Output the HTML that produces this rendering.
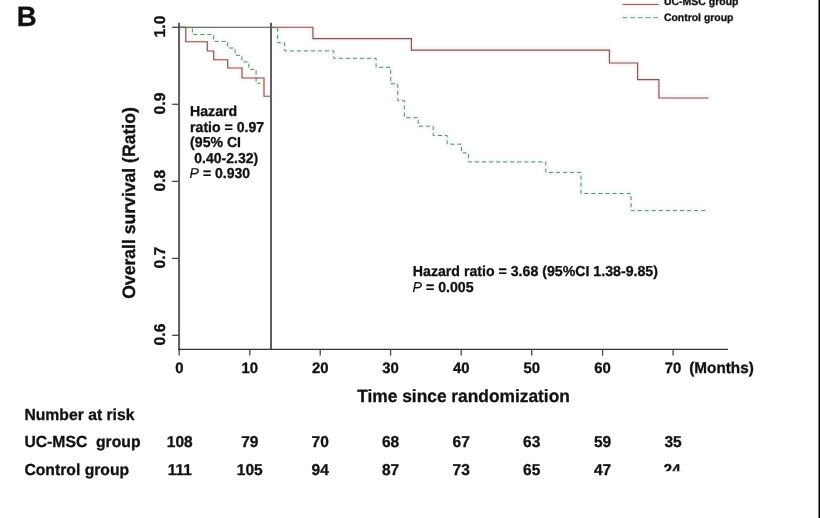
<!DOCTYPE html>
<html>
<head>
<meta charset="utf-8">
<title>Overall survival</title>
<style>
html,body{margin:0;padding:0;background:#fff;}
body{width:820px;height:518px;overflow:hidden;}
svg{display:block;}
text{font-family:"Liberation Sans",sans-serif;font-weight:bold;fill:#111;stroke:#111;stroke-width:0.3px;text-rendering:geometricPrecision;}
.it{font-style:italic;font-weight:normal;stroke-width:0.15px;}
</style>
</head>
<body>
<svg width="820" height="518" viewBox="0 0 820 518">
<rect x="0" y="0" width="820" height="518" fill="#fff"/>
<defs><filter id="soft" x="-5%" y="-5%" width="110%" height="110%"><feGaussianBlur stdDeviation="1.6"/></filter></defs>

<!-- panel letter -->
<text transform="translate(16.8 25.6) scale(1 1.02)" font-size="27.6">B</text>
<!-- legend -->
<line x1="622.5" y1="4.5" x2="658.8" y2="4.5" stroke="#725c60" stroke-width="1.15"/>
<text transform="translate(664 4.6) scale(1 1.02)" font-size="10.47">UC-MSC group</text>
<line x1="622.5" y1="17.6" x2="658.8" y2="17.6" stroke="#7b8480" stroke-width="0.95" stroke-dasharray="4.7 3"/>
<text transform="translate(664 20.5) scale(1 1.02)" font-size="10.42">Control group</text>
<!-- curves: soft colour halo then crisp lines -->
<g fill="none" stroke-linejoin="round" stroke-linecap="round" filter="url(#soft)">
<path stroke="#ff7b7b" stroke-opacity="0.16" stroke-width="4" d="M179.3 27.4 H185.8 V41.7 H207.3 V51 H213.7 V59.7 H227.7 V68 H242 V78 H264 V96.2 H271"/>
<path stroke="#ff7b7b" stroke-opacity="0.16" stroke-width="4" d="M271 27.2 H312.9 V38.6 H411.4 V50.1 H609.4 V63 H637.6 V79.6 H658.9 V98 H708.4"/>
<path stroke="#ff7b7b" stroke-opacity="0.16" stroke-width="4" d="M622.5 4.5 H658.8"/>
<path stroke="#59d98a" stroke-opacity="0.13" stroke-width="4" d="M179.3 27.4 H192.4 V34.5 H213.6 V41.4 H227.7 V48 H235 V55.3 H241.9 V61.9 H248.8 V69.4 H256.1 V83.3 H260.3"/>
<path stroke="#59d98a" stroke-opacity="0.13" stroke-width="4" d="M271 27.4 H277.7 V42.8 H284.7 V50.9 H333.8 V58.3 H376.1 V67.3 H390.7 V83.8 H397.8 V100.7 H404.4 V117.7 H418.2 V126.2 H433.2 V135.5 H447.2 V144.2 H461.5 V152.9 H468.5 V161.9 H545.8 V172.4 H581 V193.5 H631 V210.6 H706.5"/>
<path stroke="#59d98a" stroke-opacity="0.13" stroke-width="4" d="M622.5 17.6 H658.8"/>
</g>
<g fill="none" stroke-linejoin="miter">
<line x1="179" y1="27.4" x2="271" y2="27.4" stroke="#6e6e6e" stroke-width="1.3"/>
<path stroke="#6b7470" stroke-width="0.95" stroke-dasharray="4 3.05" d="M179.3 27.4 H192.4 V34.5 H213.6 V41.4 H227.7 V48 H235 V55.3 H241.9 V61.9 H248.8 V69.4 H256.1 V83.3 H260.3"/>
<path stroke="#6b7470" stroke-width="0.95" stroke-dasharray="4 3.05" d="M271 27.4 H277.7 V42.8 H284.7 V50.9 H333.8 V58.3 H376.1 V67.3 H390.7 V83.8 H397.8 V100.7 H404.4 V117.7 H418.2 V126.2 H433.2 V135.5 H447.2 V144.2 H461.5 V152.9 H468.5 V161.9 H545.8 V172.4 H581 V193.5 H631 V210.6 H706.5"/>
<path stroke="#725c60" stroke-width="1.15" d="M179.3 27.4 H185.8 V41.7 H207.3 V51 H213.7 V59.7 H227.7 V68 H242 V78 H264 V96.2 H271"/>
<path stroke="#725c60" stroke-width="1.15" d="M271 27.2 H312.9 V38.6 H411.4 V50.1 H609.4 V63 H637.6 V79.6 H658.9 V98 H708.4"/>
</g>
<!-- axes -->
<g fill="none">
<line x1="179.05" y1="22.8" x2="179.05" y2="350" stroke-width="2" stroke="#5e5e5e"/>
<line x1="271" y1="22.8" x2="271" y2="349.4" stroke-width="2" stroke="#5e5e5e"/>
<line x1="178" y1="349.35" x2="728" y2="349.35" stroke-width="1.3" stroke="#333"/>
<g stroke-width="1.3" stroke="#444">
<line x1="172.2" y1="27.3" x2="179" y2="27.3"/>
<line x1="172.2" y1="104.3" x2="179" y2="104.3"/>
<line x1="172.2" y1="181.4" x2="179" y2="181.4"/>
<line x1="172.2" y1="258.4" x2="179" y2="258.4"/>
<line x1="172.2" y1="335.3" x2="179" y2="335.3"/>
<line x1="179.2" y1="349" x2="179.2" y2="355.6"/>
<line x1="249.8" y1="349" x2="249.8" y2="355.6"/>
<line x1="320.2" y1="349" x2="320.2" y2="355.6"/>
<line x1="390.6" y1="349" x2="390.6" y2="355.6"/>
<line x1="461.2" y1="349" x2="461.2" y2="355.6"/>
<line x1="531.7" y1="349" x2="531.7" y2="355.6"/>
<line x1="602.6" y1="349" x2="602.6" y2="355.6"/>
<line x1="673.1" y1="349" x2="673.1" y2="355.6"/>
</g></g>
<!-- y axis labels -->
<text transform="translate(165.3 26.5) rotate(-90) scale(1 1.0)" font-size="15.7" text-anchor="middle">1.0</text>
<text transform="translate(165.3 103.5) rotate(-90) scale(1 1.0)" font-size="15.7" text-anchor="middle">0.9</text>
<text transform="translate(165.3 180.6) rotate(-90) scale(1 1.0)" font-size="15.7" text-anchor="middle">0.8</text>
<text transform="translate(165.3 257.6) rotate(-90) scale(1 1.0)" font-size="15.7" text-anchor="middle">0.7</text>
<text transform="translate(165.3 334.5) rotate(-90) scale(1 1.0)" font-size="15.7" text-anchor="middle">0.6</text>
<text transform="translate(135 203) rotate(-90) scale(1 1.02)" font-size="17.6" text-anchor="middle">Overall survival (Ratio)</text>
<!-- x axis labels -->
<text transform="translate(179.4 372.6) scale(1 1.02)" font-size="14.9" text-anchor="middle">0</text>
<text transform="translate(249.8 372.6) scale(1 1.02)" font-size="14.9" text-anchor="middle">10</text>
<text transform="translate(320.2 372.6) scale(1 1.02)" font-size="14.9" text-anchor="middle">20</text>
<text transform="translate(390.6 372.6) scale(1 1.02)" font-size="14.9" text-anchor="middle">30</text>
<text transform="translate(461.2 372.6) scale(1 1.02)" font-size="14.9" text-anchor="middle">40</text>
<text transform="translate(531.7 372.6) scale(1 1.02)" font-size="14.9" text-anchor="middle">50</text>
<text transform="translate(602.6 372.6) scale(1 1.02)" font-size="14.9" text-anchor="middle">60</text>
<text transform="translate(673.1 372.6) scale(1 1.02)" font-size="14.9" text-anchor="middle">70</text>
<text transform="translate(689.2 372.5) scale(1 1.02)" font-size="15.3">(Months)</text>
<text transform="translate(357.2 402.0) scale(1 1.02)" font-size="17.35">Time since randomization</text>
<!-- annotations -->
<text transform="translate(190.1 115.7) scale(1 1.02)" font-size="14.1">Hazard</text>
<text transform="translate(190.1 131.7) scale(1 1.02)" font-size="14.1">ratio = 0.97</text>
<text transform="translate(190.1 147.3) scale(1 1.02)" font-size="14.1">(95% CI</text>
<text transform="translate(194.2 162.8) scale(1 1.02)" font-size="14.05">0.40-2.32)</text>
<text transform="translate(189.6 177.8) scale(1 1.02)" font-size="14.05"><tspan class="it">P</tspan> = 0.930</text>
<text transform="translate(412.8 275.7) scale(1 1.02)" font-size="14.17">Hazard ratio = 3.68 (95%CI 1.38-9.85)</text>
<text transform="translate(412.6 291.7) scale(1 1.02)" font-size="14.17"><tspan class="it">P</tspan> = 0.005</text>
<!-- number at risk -->
<text transform="translate(24.4 419.6) scale(1 1.02)" font-size="15.72">Number at risk</text>
<text transform="translate(24.4 446.8) scale(1 1.02)" font-size="15.72" xml:space="preserve">UC-MSC  group</text>
<text transform="translate(24.4 474.7) scale(1 1.02)" font-size="15.72">Control group</text>
<text transform="translate(179.8 446.8) scale(1 1.02)" font-size="15.5" text-anchor="middle">108</text>
<text transform="translate(179.8 474.7) scale(1 1.02)" font-size="15.5" text-anchor="middle">111</text>
<text transform="translate(249.8 446.8) scale(1 1.02)" font-size="15.5" text-anchor="middle">79</text>
<text transform="translate(249.8 474.7) scale(1 1.02)" font-size="15.5" text-anchor="middle">105</text>
<text transform="translate(320.2 446.8) scale(1 1.02)" font-size="15.5" text-anchor="middle">70</text>
<text transform="translate(320.2 474.7) scale(1 1.02)" font-size="15.5" text-anchor="middle">94</text>
<text transform="translate(390.6 446.8) scale(1 1.02)" font-size="15.5" text-anchor="middle">68</text>
<text transform="translate(390.6 474.7) scale(1 1.02)" font-size="15.5" text-anchor="middle">87</text>
<text transform="translate(461.2 446.8) scale(1 1.02)" font-size="15.5" text-anchor="middle">67</text>
<text transform="translate(461.2 474.7) scale(1 1.02)" font-size="15.5" text-anchor="middle">73</text>
<text transform="translate(531.7 446.8) scale(1 1.02)" font-size="15.5" text-anchor="middle">63</text>
<text transform="translate(531.7 474.7) scale(1 1.02)" font-size="15.5" text-anchor="middle">65</text>
<text transform="translate(602.6 446.8) scale(1 1.02)" font-size="15.5" text-anchor="middle">59</text>
<text transform="translate(602.6 474.7) scale(1 1.02)" font-size="15.5" text-anchor="middle">47</text>
<text transform="translate(673.1 446.8) scale(1 1.02)" font-size="15.5" text-anchor="middle">35</text>
<text transform="translate(672 474.7) scale(1 1.02)" font-size="15.5" text-anchor="middle">24</text>
<!-- white patch (removed watermark) -->
<rect x="650" y="471.2" width="160" height="26" fill="#fff"/>
<!-- right border -->
<rect x="818.5" y="0" width="1.5" height="518" fill="#000"/>
</svg>
</body>
</html>
